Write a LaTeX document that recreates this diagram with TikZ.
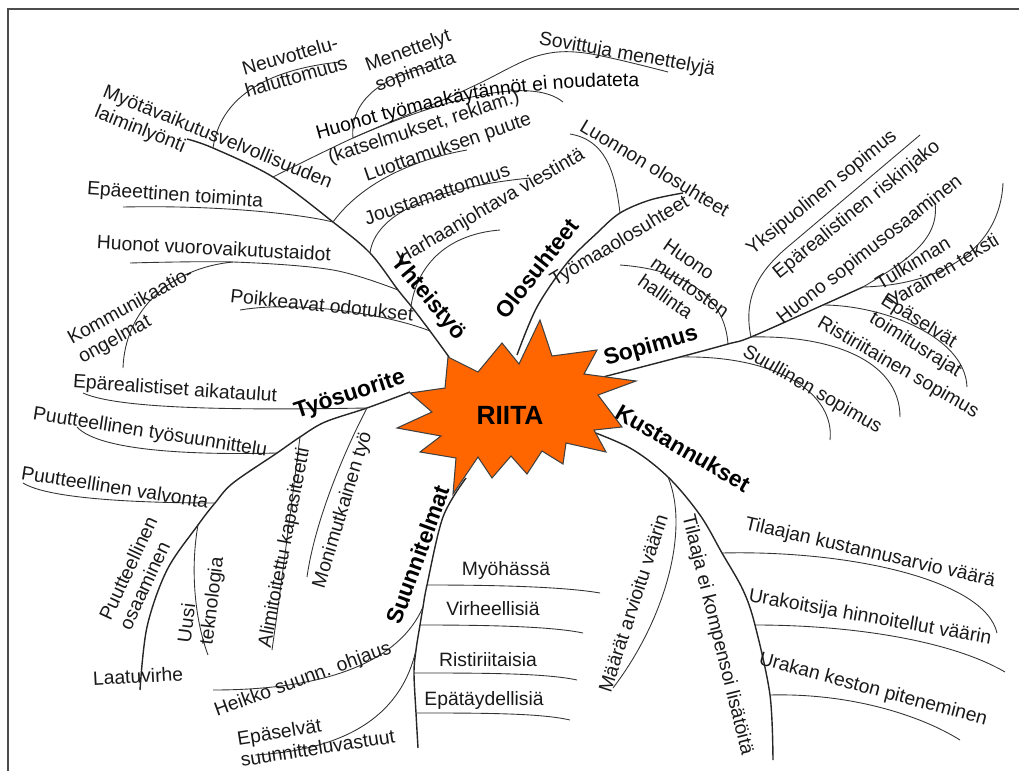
\documentclass[tikz,border=0pt]{standalone}
\usepackage{fontspec}
\setmainfont{Liberation Sans}
\usetikzlibrary{decorations.text}
\definecolor{burstorange}{HTML}{FF6600}
\tikzset{
  % thick line leaving the burst
  bone/.style = {
    draw = black!85,
    line width = 0.8pt
  },
  % thin line of a single cause
  twig/.style = {
    draw = black!80,
    line width = 0.5pt
  },
  % cause text
  cause/.style = {
    font = \fontsize{11}{12.5}\selectfont,
    text = black!90,
    inner sep = 0pt,
    align = left
  },
  % cause text that follows a curve
  bent cause/.style = {
    decorate,
    decoration = {
      text along path,
      text align = left,
      text = {|\fontsize{11}{12.5}\selectfont|#1}
    }
  },
  % title of a branch
  group/.style = {
    font = \fontsize{13}{15}\selectfont\bfseries,
    inner sep = 0pt
  },
  burst/.style = {
    draw = black!75,
    fill = burstorange,
    line width = 0.6pt
  },
  frame/.style = {
    draw = black!70,
    line width = 1.2pt
  }
}

\begin{document}
\begin{tikzpicture}[x=0.02cm, y=-0.02cm]
  \useasboundingbox (0,0) rectangle (1019,771);
  \draw[frame] (8,771) -- (8,9) -- (1019,9);

  % Yhteistyo
  \coordinate (yht-0) at (449,357);
  \coordinate (yht-1) at (430,331);
  \coordinate (yht-2) at (411,306);
  \coordinate (yht-3) at (398,290);
  \coordinate (yht-4) at (370,253);
  \coordinate (yht-5) at (333,222);
  \coordinate (yht-6) at (273,177);
  \coordinate (yht-7) at (213,148);
  \coordinate (yht-8) at (187,139);
  \draw[bone] plot[smooth, tension=0.55] coordinates
    {(yht-0) (yht-1) (yht-2) (yht-3) (yht-4) (yht-5) (yht-6) (yht-7) (yht-8)};

  \coordinate (neuv-end) at (340,62);
  \draw[twig] (yht-7) .. controls (220,100) and (262,70) .. (neuv-end);
  \coordinate (tyok-1) at (353,138);
  \coordinate (tyok-2) at (443,100);
  \coordinate (tyok-3) at (480,83);
  \coordinate (tyok-4) at (537,56);
  \coordinate (tyok-5) at (585,53);
  \coordinate (tyok-end) at (668,72);
  \draw[twig] plot[smooth, tension=0.55] coordinates
    {(yht-6) (tyok-1) (tyok-2) (tyok-3) (tyok-4) (tyok-5) (tyok-end)};
  \coordinate (men-end) at (432,66);
  \draw[twig] (tyok-1) .. controls (350,105) and (375,78) .. (men-end);
  \coordinate (kats-end) at (563,102);
  \draw[twig] (tyok-1) .. controls (440,100) and (530,75) .. (kats-end);
  \coordinate (luott-end) at (467,150);
  \draw[twig] (yht-5) .. controls (360,185) and (410,160) .. (luott-end);
  \coordinate (epae-end) at (123,207);
  \draw[twig] (yht-5) .. controls (300,214) and (220,205) .. (epae-end);
  \coordinate (jous-end) at (530,178);
  \draw[twig] (yht-4) .. controls (375,215) and (430,188) .. (jous-end);
  \coordinate (harh-end) at (500,230);
  \draw[twig] (yht-2) .. controls (418,262) and (450,234) .. (harh-end);
  \coordinate (huonov-1) at (333,270);
  \coordinate (huonov-2) at (233,262);
  \coordinate (huonov-end) at (130,263);
  \draw[twig] plot[smooth, tension=0.55] coordinates
    {(yht-3) (huonov-1) (huonov-2) (huonov-end)};
  \coordinate (kom-end) at (123,368);
  \draw[twig] (huonov-2) .. controls (170,268) and (125,310) .. (kom-end);
  \coordinate (poik-end) at (240,310);
  \draw[twig] (yht-1) .. controls (390,315) and (300,300) .. (poik-end);

  % Olosuhteet
  \coordinate (olo-0) at (517,355);
  \coordinate (olo-1) at (537,307);
  \coordinate (olo-2) at (567,263);
  \coordinate (olo-3) at (597,233);
  \coordinate (olo-4) at (620,213);
  \coordinate (olo-5) at (650,200);
  \coordinate (olo-6) at (683,193);
  \draw[bone] plot[smooth, tension=0.55] coordinates
    {(olo-0) (olo-1) (olo-2) (olo-3) (olo-4) (olo-5) (olo-6)};
  \coordinate (luon-end) at (570,134);
  \draw[twig] (olo-4) .. controls (615,170) and (605,140) .. (luon-end);

  % Sopimus
  \coordinate (sop-0) at (603,377);
  \coordinate (sop-1) at (680,357);
  \coordinate (sop-2) at (728,344);
  \coordinate (sop-3) at (751,337);
  \coordinate (sop-4) at (823,305);
  \coordinate (sop-5) at (863,287);
  \draw[bone] plot[smooth, tension=0.55] coordinates
    {(sop-0) (sop-1) (sop-2) (sop-3) (sop-4) (sop-5)};
  \coordinate (suul-end) at (830,440);
  \draw[twig] (sop-1) .. controls (780,355) and (835,395) .. (suul-end);
  \coordinate (muut-end) at (620,265);
  \draw[twig] (sop-2) .. controls (725,300) and (690,270) .. (muut-end);
  \coordinate (yksi-1) at (790,245);
  \coordinate (yksi-end) at (920,135);
  \draw[twig] (sop-3) .. controls (742,295) and (762,268) .. (yksi-1)
    -- (yksi-end);
  \coordinate (risti-end) at (900,417);
  \draw[twig] (sop-3) .. controls (830,335) and (900,360) .. (risti-end);
  \coordinate (eps-end) at (967,387);
  \draw[twig] (sop-4) .. controls (880,305) and (965,335) .. (eps-end);
  \coordinate (osaa-end) at (935,203);
  \draw[twig] (sop-5) .. controls (905,262) and (940,240) .. (osaa-end);
  \coordinate (tulk-end) at (1003,183);
  \draw[twig] (sop-5) .. controls (940,285) and (1000,250) .. (tulk-end);

  % Kustannukset
  \coordinate (kus-0) at (580,427);
  \coordinate (kus-1) at (630,448);
  \coordinate (kus-2) at (668,477);
  \coordinate (kus-3) at (700,515);
  \coordinate (kus-4) at (722,553);
  \coordinate (kus-5) at (743,590);
  \coordinate (kus-6) at (755,625);
  \coordinate (kus-7) at (770,695);
  \coordinate (kus-8) at (773,760);
  \draw[bone] plot[smooth, tension=0.55] coordinates
    {(kus-0) (kus-1) (kus-2) (kus-3) (kus-4) (kus-5) (kus-6) (kus-7) (kus-8)};
  \coordinate (maar-end) at (613,688);
  \draw[twig] (kus-2) .. controls (690,530) and (665,620) .. (maar-end);
  \coordinate (tkust-end) at (997,633);
  \draw[twig] (kus-4) .. controls (850,550) and (985,580) .. (tkust-end);
  \coordinate (urak-end) at (1005,672);
  \draw[twig] (kus-6) .. controls (850,625) and (950,640) .. (urak-end);
  \coordinate (urkes-end) at (960,740);
  \draw[twig] (kus-7) .. controls (850,693) and (920,715) .. (urkes-end);

  % Suunnitelmat
  \coordinate (suu-0) at (466,478);
  \coordinate (suu-1) at (443,517);
  \coordinate (suu-2) at (427,585);
  \coordinate (suu-3) at (423,607);
  \coordinate (suu-4) at (420,625);
  \coordinate (suu-5) at (416,650);
  \coordinate (suu-6) at (414,673);
  \coordinate (suu-7) at (416,713);
  \coordinate (suu-8) at (418,748);
  \draw[bone] plot[smooth, tension=0.55] coordinates
    {(suu-0) (suu-1) (suu-2) (suu-3) (suu-4) (suu-5) (suu-6) (suu-7) (suu-8)};
  \coordinate (myoh-end) at (600,593);
  \draw[twig] (suu-2) .. controls (480,585) and (560,586) .. (myoh-end);
  \coordinate (virh-end) at (583,633);
  \draw[twig] (suu-4) .. controls (480,625) and (550,626) .. (virh-end);
  \coordinate (ristis-end) at (577,680);
  \draw[twig] (suu-6) .. controls (480,673) and (545,673) .. (ristis-end);
  \coordinate (epat-end) at (570,720);
  \draw[twig] (suu-7) .. controls (480,713) and (540,713) .. (epat-end);
  \coordinate (heikko-end) at (213,690);
  \draw[twig] (suu-3) .. controls (400,660) and (330,690) .. (heikko-end);
  \coordinate (epsuu-end) at (255,755);
  \draw[twig] (suu-5) .. controls (400,720) and (340,750) .. (epsuu-end);

  % Tyosuorite
  \coordinate (tyo-0) at (410,392);
  \coordinate (tyo-1) at (367,408);
  \coordinate (tyo-2) at (325,422);
  \coordinate (tyo-3) at (300,437);
  \coordinate (tyo-4) at (277,453);
  \coordinate (tyo-5) at (233,483);
  \coordinate (tyo-6) at (215,503);
  \coordinate (tyo-7) at (198,525);
  \coordinate (tyo-8) at (167,570);
  \coordinate (tyo-9) at (147,627);
  \coordinate (tyo-10) at (140,690);
  \draw[bone] plot[smooth, tension=0.55] coordinates
    {(tyo-0) (tyo-1) (tyo-2) (tyo-3) (tyo-4) (tyo-5) (tyo-6) (tyo-7) (tyo-8) (tyo-9) (tyo-10)};
  \coordinate (epa-end) at (83,393);
  \draw[twig] (tyo-1) .. controls (250,410) and (120,410) .. (epa-end);
  \coordinate (moni-end) at (307,577);
  \draw[twig] (tyo-1) .. controls (345,450) and (315,520) .. (moni-end);
  \coordinate (alim-end) at (272,650);
  \draw[twig] (tyo-3) .. controls (292,500) and (282,580) .. (alim-end);
  \coordinate (ptyo-end) at (77,427);
  \draw[twig] (tyo-4) .. controls (200,455) and (100,452) .. (ptyo-end);
  \coordinate (pval-end) at (23,483);
  \draw[twig] (tyo-6) .. controls (150,503) and (50,500) .. (pval-end);
  \coordinate (uusi-end) at (208,655);
  \draw[twig] (tyo-7) .. controls (190,570) and (195,620) .. (uusi-end);

  % the burst in the middle
  \draw[burst] (540,320) -- (552,356) -- (597,350) -- (584,374)
    -- (636,381) -- (598,395) -- (622,427) -- (594,430)
    -- (606,452) -- (566,443) -- (563,464) -- (542,451)
    -- (527,474) -- (511,456) -- (492,478) -- (478,457)
    -- (453,494) -- (456,458) -- (420,452) -- (441,436)
    -- (397,428) -- (432,412) -- (410,393) -- (445,388)
    -- (448,357) -- (478,372) -- (502,343) -- (519,364) -- cycle;
  \node[font=\fontsize{15}{17}\selectfont\bfseries, inner sep=0pt] (riita) at (510,415) {RIITA};

  % branch titles
  \node[group, rotate=-50] (yhteistyo) at (428,298) {Yhteistyö};
  \node[group, rotate=52] (olosuhteet) at (537,268) {Olosuhteet};
  \node[group, rotate=16] (sopimus) at (651,347) {Sopimus};
  \node[group, rotate=-30] (kustannukset) at (683,448) {Kustannukset};
  \node[group, rotate=70] (suunnitelmat) at (418,555) {Suunnitelmat};
  \node[group, rotate=18] (tyosuorite) at (350,395) {Työsuorite};

  % causes
  \node[cause, rotate=-22, anchor=north west] (myot) at (107,83)
    {Myötävaikutusvelvollisuuden\\laiminlyönti};
  \node[cause, rotate=16, align=center] (neuv) at (293,66) {Neuvottelu-\\haluttomuus};
  \node[cause, rotate=20, align=center] (men) at (412,62) {Menettelyt\\sopimatta};
  \path[bent cause={Huonot työmaakäytännöt ei noudateta}]
    (318,139) .. controls (430,108) and (520,80) .. (665,88);
  \node[cause, rotate=18] (kats) at (424,128) {(katselmukset, reklam.)};
  \node[cause, rotate=19] (luott) at (448,148) {Luottamuksen puute};
  \node[cause, rotate=-10] (sovit) at (627,55) {Sovittuja menettelyjä};
  \node[cause, rotate=19] (jous) at (437,194) {Joustamattomuus};
  \node[cause, rotate=30] (harh) at (491,207) {Harhaanjohtava viestintä};
  \node[cause, rotate=-4] (epae) at (175,196) {Epäeettinen toiminta};
  \node[cause, rotate=-3] (huonov) at (214,248) {Huonot vuorovaikutustaidot};
  \node[cause, rotate=29] (kom) at (136,316) {Kommunikaatio-\\ongelmat};
  \node[cause, rotate=-6] (poik) at (322,305) {Poikkeavat odotukset};

  \node[cause, rotate=31] (tyomaa) at (620,242) {Työmaaolosuhteet};
  \node[cause, rotate=-31] (luon) at (655,168) {Luonnon olosuhteet};

  \node[cause, rotate=-35] (muut) at (690,287) {Huono\\muutosten\\hallinta};
  \node[cause, rotate=39] (yksi) at (822,193) {Yksipuolinen sopimus};
  \node[cause, rotate=39] (epar) at (857,210) {Epärealistinen riskinjako};
  \node[cause, rotate=38] (osaa) at (870,250) {Huono sopimusosaaminen};
  \node[cause, rotate=31] (tulk) at (937,261) {Tulkinnan\\Varainen teksti};
  \node[cause, rotate=-32] (eps) at (921,336) {Epäselvät\\toimitusrajat};
  \node[cause, rotate=-30] (risti) at (898,368) {Ristiriitainen sopimus};
  \node[cause, rotate=-30] (suul) at (812,390) {Suullinen sopimus};

  \node[cause, rotate=72] (maar) at (633,603) {Määrät arvioitu väärin};
  \node[cause, rotate=-76] (tilaaja) at (717,635) {Tilaaja ei kompensoi lisätöitä};
  \node[cause, rotate=-13] (tkust) at (870,553) {Tilaajan kustannusarvio väärä};
  \node[cause, rotate=-10] (urak) at (870,618) {Urakoitsija hinnoitellut väärin};
  \node[cause, rotate=-15] (urkes) at (873,690) {Urakan keston piteneminen};

  \node[cause] (myoh) at (506,570) {Myöhässä};
  \node[cause] (virh) at (493,609) {Virheellisiä};
  \node[cause] (ristis) at (488,660) {Ristiriitaisia};
  \node[cause] (epat) at (484,700) {Epätäydellisiä};
  \node[cause, rotate=20] (heikko) at (303,680) {Heikko suunn. ohjaus};
  \node[cause, rotate=9] (epsuu) at (316,737) {Epäselvät\\suunnitteluvastuut};

  \node[cause, rotate=-4] (epa) at (175,390) {Epärealistiset aikataulut};
  \node[cause, rotate=-9] (ptyo) at (150,433) {Puutteellinen työsuunnittelu};
  \node[cause, rotate=-9] (pval) at (115,487) {Puutteellinen valvonta};
  \node[cause, rotate=65] (posa) at (138,573) {Puutteellinen\\osaaminen};
  \node[cause, rotate=83] (uusi) at (202,600) {Uusi\\teknologia};
  \node[cause, rotate=79] (alim) at (285,548) {Alimitoitettu kapasiteetti};
  \node[cause, rotate=73] (moni) at (343,510) {Monimutkainen työ};
  \node[cause, rotate=3] (laatu) at (138,676) {Laatuvirhe};
\end{tikzpicture}
\end{document}
